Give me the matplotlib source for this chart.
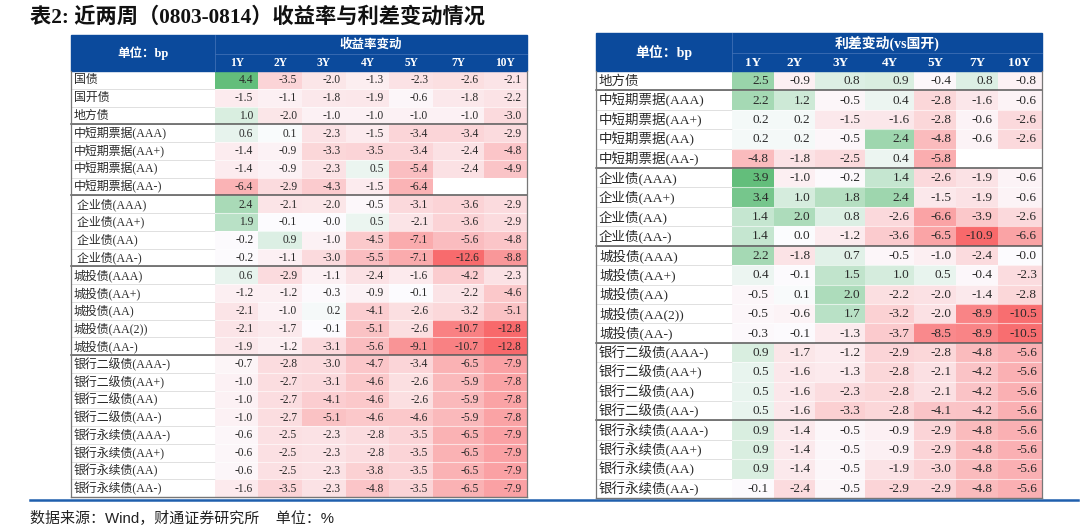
import numpy as np
import matplotlib
matplotlib.use("Agg")
import matplotlib.pyplot as plt
from matplotlib.colors import LinearSegmentedColormap, TwoSlopeNorm

# ---------------- data ----------------
title = "表2: 近两周（0803-0814）收益率与利差变动情况"
source = "数据来源：Wind，财通证券研究所    单位：%"
tenors = ["1Y", "2Y", "3Y", "4Y", "5Y", "7Y", "10Y"]

left_header = "收益率变动"
left_labels = ["国债", "国开债", "地方债",
               "中短期票据(AAA)", "中短期票据(AA+)", "中短期票据(AA)", "中短期票据(AA-)",
               " 企业债(AAA)", " 企业债(AA+)", " 企业债(AA)", " 企业债(AA-)",
               "城投债(AAA)", "城投债(AA+)", "城投债(AA)", "城投债(AA(2))", "城投债(AA-)",
               "银行二级债(AAA-)", "银行二级债(AA+)", "银行二级债(AA)", "银行二级债(AA-)",
               "银行永续债(AAA-)", "银行永续债(AA+)", "银行永续债(AA)", "银行永续债(AA-)"]
nan = np.nan
left_values = [
    [4.4, -3.5, -2.0, -1.3, -2.3, -2.6, -2.1],
    [-1.5, -1.1, -1.8, -1.9, -0.6, -1.8, -2.2],
    [1.0, -2.0, -1.0, -1.0, -1.0, -1.0, -3.0],
    [0.6, 0.1, -2.3, -1.5, -3.4, -3.4, -2.9],
    [-1.4, -0.9, -3.3, -3.5, -3.4, -2.4, -4.8],
    [-1.4, -0.9, -2.3, 0.5, -5.4, -2.4, -4.9],
    [-6.4, -2.9, -4.3, -1.5, -6.4, nan, nan],
    [2.4, -2.1, -2.0, -0.5, -3.1, -3.6, -2.9],
    [1.9, -0.1, -0.04, 0.5, -2.1, -3.6, -2.9],
    [-0.2, 0.9, -1.0, -4.5, -7.1, -5.6, -4.8],
    [-0.2, -1.1, -3.0, -5.5, -7.1, -12.6, -8.8],
    [0.6, -2.9, -1.1, -2.4, -1.6, -4.2, -2.3],
    [-1.2, -1.2, -0.3, -0.9, -0.1, -2.2, -4.6],
    [-2.1, -1.0, 0.2, -4.1, -2.6, -3.2, -5.1],
    [-2.1, -1.7, -0.1, -5.1, -2.6, -10.7, -12.8],
    [-1.9, -1.2, -3.1, -5.6, -9.1, -10.7, -12.8],
    [-0.7, -2.8, -3.0, -4.7, -3.4, -6.5, -7.9],
    [-1.0, -2.7, -3.1, -4.6, -2.6, -5.9, -7.8],
    [-1.0, -2.7, -4.1, -4.6, -2.6, -5.9, -7.8],
    [-1.0, -2.7, -5.1, -4.6, -4.6, -5.9, -7.8],
    [-0.6, -2.5, -2.3, -2.8, -3.5, -6.5, -7.9],
    [-0.6, -2.5, -2.3, -2.8, -3.5, -6.5, -7.9],
    [-0.6, -2.5, -2.3, -3.8, -3.5, -6.5, -7.9],
    [-1.6, -3.5, -2.3, -4.8, -3.5, -6.5, -7.9],
]
left_groups_end = [2, 6, 10, 15]

right_header = "利差变动(vs国开)"
right_labels = ["地方债",
                "中短期票据(AAA)", "中短期票据(AA+)", "中短期票据(AA)", "中短期票据(AA-)",
                "企业债(AAA)", "企业债(AA+)", "企业债(AA)", "企业债(AA-)",
                "城投债(AAA)", "城投债(AA+)", "城投债(AA)", "城投债(AA(2))", "城投债(AA-)",
                "银行二级债(AAA-)", "银行二级债(AA+)", "银行二级债(AA)", "银行二级债(AA-)",
                "银行永续债(AAA-)", "银行永续债(AA+)", "银行永续债(AA)", "银行永续债(AA-)"]
right_values = [
    [2.5, -0.9, 0.8, 0.9, -0.4, 0.8, -0.8],
    [2.2, 1.2, -0.5, 0.4, -2.8, -1.6, -0.6],
    [0.2, 0.2, -1.5, -1.6, -2.8, -0.6, -2.6],
    [0.2, 0.2, -0.5, 2.4, -4.8, -0.6, -2.6],
    [-4.8, -1.8, -2.5, 0.4, -5.8, nan, nan],
    [3.9, -1.0, -0.2, 1.4, -2.6, -1.9, -0.6],
    [3.4, 1.0, 1.8, 2.4, -1.5, -1.9, -0.6],
    [1.4, 2.0, 0.8, -2.6, -6.6, -3.9, -2.6],
    [1.4, 0.0, -1.2, -3.6, -6.5, -10.9, -6.6],
    [2.2, -1.8, 0.7, -0.5, -1.0, -2.4, -0.04],
    [0.4, -0.1, 1.5, 1.0, 0.5, -0.4, -2.3],
    [-0.5, 0.1, 2.0, -2.2, -2.0, -1.4, -2.8],
    [-0.5, -0.6, 1.7, -3.2, -2.0, -8.9, -10.5],
    [-0.3, -0.1, -1.3, -3.7, -8.5, -8.9, -10.5],
    [0.9, -1.7, -1.2, -2.9, -2.8, -4.8, -5.6],
    [0.5, -1.6, -1.3, -2.8, -2.1, -4.2, -5.6],
    [0.5, -1.6, -2.3, -2.8, -2.1, -4.2, -5.6],
    [0.5, -1.6, -3.3, -2.8, -4.1, -4.2, -5.6],
    [0.9, -1.4, -0.5, -0.9, -2.9, -4.8, -5.6],
    [0.9, -1.4, -0.5, -0.9, -2.9, -4.8, -5.6],
    [0.9, -1.4, -0.5, -1.9, -3.0, -4.8, -5.6],
    [-0.1, -2.4, -0.5, -2.9, -2.9, -4.8, -5.6],
]
right_groups_end = [0, 4, 8, 13, 17]

# ---------------- style ----------------
W, H = 1080, 529
BLUE = "#0B4A9C"
FONT = ["Liberation Serif", "Noto Sans CJK SC", "DejaVu Sans"]
cmap = LinearSegmentedColormap.from_list(
    "excel3", ["#F8696B", "#FCFCFF", "#63BE7B"])
cmap.set_bad("white")

fig = plt.figure(figsize=(W / 100, H / 100), dpi=100)
ax = fig.add_axes([0, 0, 1, 1])
ax.set_xlim(0, W)
ax.set_ylim(H, 0)
ax.axis("off")


def draw_table(labels, values, header, groups_end, x0, xlab, col_w, top, mid, hdr_bot, bot,
               fs_lab, fs_num, fs_hdr):
    vals = np.array(values, dtype=float)
    nrows = vals.shape[0]
    xedges = np.concatenate([[xlab], xlab + np.cumsum(col_w)])
    x1 = xedges[-1]
    yedges = np.linspace(hdr_bot, bot, nrows + 1)
    norm = TwoSlopeNorm(vmin=np.nanmin(vals), vcenter=0.0, vmax=np.nanmax(vals))
    ax.pcolormesh(xedges, yedges, np.ma.masked_invalid(vals), cmap=cmap, norm=norm,
                  edgecolors="none")
    # row separators
    for y in yedges[1:-1]:
        ax.plot([x0, xlab], [y, y], color="#DADADA", lw=0.6, zorder=3)
        ax.plot([xlab, x1], [y, y], color="#FFFFFF", lw=0.8, alpha=0.6, zorder=3)
    # header
    ax.add_patch(plt.Rectangle((x0, top), x1 - x0, hdr_bot - top, color=BLUE, zorder=2))
    ax.plot([xlab, x1], [mid, mid], color="#3E6FB5", lw=0.6, zorder=3)
    ax.plot([xlab, xlab], [top, hdr_bot], color="#3E6FB5", lw=0.6, zorder=3)
    ax.text((x0 + xlab) / 2, (top + hdr_bot) / 2, "单位：bp", color="white",
            ha="center", va="center", fontsize=fs_hdr, family=FONT, fontweight="bold", zorder=4)
    ax.text((xlab + x1) / 2, (top + mid) / 2, header, color="white",
            ha="center", va="center", fontsize=fs_hdr, family=FONT, fontweight="bold", zorder=4)
    for j, t in enumerate(tenors):
        ax.text((xedges[j] + xedges[j + 1]) / 2, (mid + hdr_bot) / 2 + 0.5, t, color="white",
                ha="center", va="center", fontsize=fs_num, family=FONT, fontweight="bold",
                zorder=4)
    # cells
    for i in range(nrows):
        yc = (yedges[i] + yedges[i + 1]) / 2 + 0.5
        ax.text(x0 + 3, yc, labels[i], ha="left", va="center", fontsize=fs_lab,
                family=FONT, color="#2A2A2A", zorder=4)
        for j in range(vals.shape[1]):
            v = vals[i, j]
            if np.isnan(v):
                continue
            ax.text(xedges[j + 1] - 5, yc, f"{v:.1f}", ha="right", va="center",
                    fontsize=fs_num, family=FONT, color="#2A2A2A", zorder=4)
    # borders
    for g in groups_end:
        y = yedges[g + 1]
        ax.plot([x0, x1], [y, y], color="#555555", lw=1.1, zorder=5)
    ax.plot([x0, x1], [bot, bot], color="#777777", lw=1.0, zorder=5)
    ax.plot([x0, x0], [hdr_bot, bot], color="#777777", lw=0.9, zorder=5)
    ax.plot([x1, x1], [hdr_bot, bot], color="#777777", lw=0.9, zorder=5)


draw_table(left_labels, left_values, left_header, left_groups_end,
           x0=71, xlab=215, col_w=[43.3, 44, 43.3, 43.7, 44, 50.7, 42.7],
           top=35, mid=54, hdr_bot=71, bot=497, fs_lab=8.6, fs_num=8.3, fs_hdr=9.0)
draw_table(right_labels, right_values, right_header, right_groups_end,
           x0=596, xlab=732, col_w=[41.7, 41.7, 50, 49, 42, 41.3, 44.3],
           top=33, mid=53, hdr_bot=71, bot=498, fs_lab=9.7, fs_num=9.5, fs_hdr=10.0)

ax.text(30, 17, title, ha="left", va="center", fontsize=15.3, fontweight="bold",
        family=["Liberation Serif", "Noto Sans CJK SC"], color="#111111")
ax.plot([30, 1078], [500, 500], color="#1F5FAD", lw=1.8)
ax.text(30, 518, source, ha="left", va="center", fontsize=10.8,
        family=["Liberation Sans", "Noto Sans CJK SC"], color="#222222")

fig.savefig("out.png", dpi=100)
